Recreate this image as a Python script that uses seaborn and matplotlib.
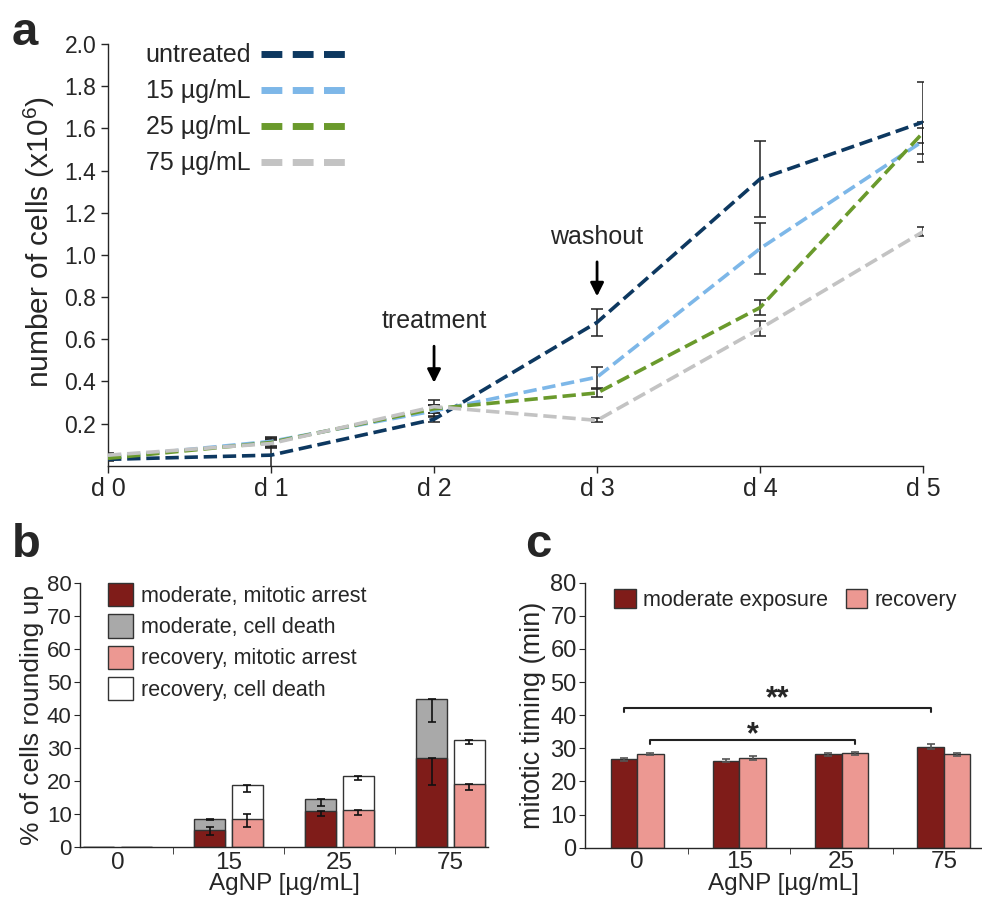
import numpy as np
import pandas as pd
import matplotlib
matplotlib.use("Agg")
import matplotlib.pyplot as plt
import seaborn as sns
from matplotlib.lines import Line2D
from matplotlib.patches import Patch

# -------------------- Data: panel a (cell growth) --------------------
days = ["d 0", "d 1", "d 2", "d 3", "d 4", "d 5"]
groups = ["untreated", "15 µg/mL", "25 µg/mL", "75 µg/mL"]
untreated = [0.03, 0.05, 0.22, 0.68, 1.36, 1.63]
ug15 = [0.04, 0.115, 0.26, 0.42, 1.03, 1.54]
ug25 = [0.035, 0.11, 0.27, 0.345, 0.75, 1.58]
ug75 = [0.05, 0.105, 0.28, 0.215, 0.65, 1.11]
untreated_err = [0.01, 0.07, 0.015, 0.065, 0.18, 0.19]
ug15_err = [0.01, 0.02, 0.03, 0.05, 0.12, 0.06]
ug25_err = [0.01, 0.02, 0.02, 0.02, 0.035, 0.05]
ug75_err = [0.01, 0.02, 0.03, 0.01, 0.035, 0.02]
line_colors = ["#0d3860", "#7db7e8", "#6a9a2c", "#c3c3c3"]

# -------------------- Data: panel b (rounding up) --------------------
doses = ["0", "15", "25", "75"]
mod_arrest = [0, 5.0, 10.8, 26.8]
mod_death = [0, 3.3, 3.7, 17.9]
rec_arrest = [0, 8.4, 11.1, 19.2]
rec_death = [0, 10.3, 10.3, 13.1]
# error bars (lower, upper)
mod_arrest_err = [[0, 1.5, 1.3, 8.0], [0, 1.0, 0, 0]]
mod_total_err = [[0, 0.3, 2.2, 6.8], [0, 0, 0, 0]]
rec_arrest_err = [[0, 2.3, 1.5, 2.0], [0, 1.7, 0, 0]]
rec_total_err = [[0, 2.0, 1.2, 1.2], [0, 0, 0, 0]]

# -------------------- Data: panel c (mitotic timing) --------------------
moderate_time = [26.7, 26.3, 28.2, 30.5]
recovery_time = [28.3, 27.1, 28.5, 28.2]
moderate_time_err = [0.4, 0.4, 0.5, 0.7]
recovery_time_err = [0.4, 0.5, 0.5, 0.5]

dark_red = "#7f1c19"
pink = "#ec9892"
grey = "#a9a9a9"

sns.set_style("ticks")
plt.rcParams["font.family"] = ["Liberation Sans", "DejaVu Sans"]
plt.rcParams["mathtext.fontset"] = "custom"
plt.rcParams["mathtext.rm"] = "Liberation Sans"
plt.rcParams["axes.linewidth"] = 1.0

fig = plt.figure(figsize=(9.82, 8.99), dpi=100)

# ==================== Panel a ====================
ax_a = fig.add_axes([0.110, 0.482, 0.830, 0.469])
series = [untreated, ug15, ug25, ug75]
errs = [untreated_err, ug15_err, ug25_err, ug75_err]
df_a = pd.DataFrame({
    "day": np.tile(np.arange(len(days)), len(groups)),
    "cells": np.concatenate(series),
    "group": np.repeat(groups, len(days)),
})
sns.lineplot(data=df_a, x="day", y="cells", hue="group", palette=line_colors,
             linewidth=2.6, legend=False, ax=ax_a, zorder=3)
for ln in ax_a.get_lines():
    ln.set_dashes((3.7, 1.6))
for vals, err in zip(series, errs):
    ax_a.errorbar(np.arange(len(days)), vals, yerr=err, fmt="none",
                  ecolor="#222222", elinewidth=1.1, capsize=4, capthick=1.1, zorder=2)

ax_a.set_xlim(0, 5)
ax_a.set_ylim(0, 2.0)
ax_a.set_xticks(np.arange(len(days)))
ax_a.set_xticklabels(days, fontsize=18)
ax_a.set_yticks(np.arange(0.2, 2.01, 0.2))
ax_a.set_yticklabels([f"{v:.1f}" for v in np.arange(0.2, 2.01, 0.2)], fontsize=16.5)
ax_a.tick_params(length=5, width=1)
ax_a.set_xlabel("")
ax_a.set_ylabel("number of cells (x10$^{6}$)", fontsize=21.5)
ax_a.yaxis.set_label_coords(-0.062, 0.53)
sns.despine(ax=ax_a)

handles = [Line2D([0], [0], color=c, lw=5, dashes=(3, 1.5)) for c in line_colors]
ax_a.legend(handles, groups, loc="upper left", bbox_to_anchor=(0.018, 1.055),
            frameon=False, markerfirst=False, fontsize=18, handlelength=3.7,
            handletextpad=0.4, labelspacing=0.48)

ax_a.annotate("", xy=(2, 0.38), xytext=(2, 0.58),
              arrowprops=dict(arrowstyle="-|>", color="black", lw=2, mutation_scale=20))
ax_a.text(2, 0.63, "treatment", ha="center", va="bottom", fontsize=18)
ax_a.annotate("", xy=(3, 0.79), xytext=(3, 0.98),
              arrowprops=dict(arrowstyle="-|>", color="black", lw=2, mutation_scale=20))
ax_a.text(3, 1.03, "washout", ha="center", va="bottom", fontsize=18)

fig.text(0.012, 0.988, "a", fontsize=34, fontweight="bold", va="top")

# ==================== Panel b ====================
ax_b = fig.add_axes([0.0815, 0.058, 0.4155, 0.2935])
conds = ["moderate", "recovery"]
df_tot = pd.DataFrame({
    "dose": np.tile(doses, 2),
    "cond": np.repeat(conds, len(doses)),
    "value": np.array(mod_arrest + rec_arrest) + np.array(mod_death + rec_death),
})
df_arr = pd.DataFrame({
    "dose": np.tile(doses, 2),
    "cond": np.repeat(conds, len(doses)),
    "value": mod_arrest + rec_arrest,
})
sns.barplot(data=df_tot, x="dose", y="value", hue="cond", order=doses, hue_order=conds,
            palette={"moderate": grey, "recovery": "white"}, width=0.68, gap=0.18,
            edgecolor="#333333", linewidth=1.0, errorbar=None, legend=False,
            saturation=1, ax=ax_b)
sns.barplot(data=df_arr, x="dose", y="value", hue="cond", order=doses, hue_order=conds,
            palette={"moderate": dark_red, "recovery": pink}, width=0.68, gap=0.18,
            edgecolor="#333333", linewidth=1.0, errorbar=None, legend=False,
            saturation=1, ax=ax_b)
idx = np.arange(len(doses))
tot_mod = np.array(mod_arrest) + np.array(mod_death)
tot_rec = np.array(rec_arrest) + np.array(rec_death)
eb_kw = dict(fmt="none", ecolor="#111111", elinewidth=1.2, capsize=3, capthick=1.2, zorder=5)
ax_b.errorbar(idx[1:] - 0.17, tot_mod[1:], yerr=np.array(mod_total_err)[:, 1:], **eb_kw)
ax_b.errorbar(idx[1:] - 0.17, np.array(mod_arrest)[1:], yerr=np.array(mod_arrest_err)[:, 1:], **eb_kw)
ax_b.errorbar(idx[1:] + 0.17, tot_rec[1:], yerr=np.array(rec_total_err)[:, 1:], **eb_kw)
ax_b.errorbar(idx[1:] + 0.17, np.array(rec_arrest)[1:], yerr=np.array(rec_arrest_err)[:, 1:], **eb_kw)

ax_b.set_xlim(-0.34, 3.34)
ax_b.set_ylim(0, 80)
ax_b.set_yticks(range(0, 81, 10))
ax_b.tick_params(axis="y", labelsize=16, length=4, pad=2)
ax_b.tick_params(axis="x", labelsize=17.5, length=0, pad=4)
ax_b.set_xticks(idx, minor=False)
ax_b.set_xticklabels(doses)
ax_b.set_xticks([0.5, 1.5, 2.5], minor=True)
ax_b.tick_params(axis="x", which="minor", length=5)
ax_b.set_xlabel("AgNP [µg/mL]", fontsize=17.5, labelpad=-1)
ax_b.set_ylabel("% of cells rounding up", fontsize=19, labelpad=2)
sns.despine(ax=ax_b)

b_handles = [Patch(facecolor=dark_red, edgecolor="#333333"),
             Patch(facecolor=grey, edgecolor="#333333"),
             Patch(facecolor=pink, edgecolor="#333333"),
             Patch(facecolor="white", edgecolor="#333333")]
b_labels = ["moderate, mitotic arrest", "moderate, cell death",
            "recovery, mitotic arrest", "recovery, cell death"]
ax_b.legend(b_handles, b_labels, loc="upper left", bbox_to_anchor=(0.02, 1.075),
            frameon=False, fontsize=15.5, handlelength=1.2, handleheight=1.3,
            handletextpad=0.35, labelspacing=0.35)

fig.text(0.012, 0.418, "b", fontsize=34, fontweight="bold", va="top")

# ==================== Panel c ====================
ax_c = fig.add_axes([0.5957, 0.057, 0.404, 0.295])
df_c = pd.DataFrame({
    "dose": np.tile(doses, 2),
    "cond": np.repeat(["moderate exposure", "recovery"], len(doses)),
    "value": moderate_time + recovery_time,
})
sns.barplot(data=df_c, x="dose", y="value", hue="cond", order=doses,
            palette=[dark_red, pink], width=0.52, edgecolor="#333333", linewidth=1.0,
            errorbar=None, saturation=1, ax=ax_c)
eb_c = dict(fmt="none", ecolor="#555555", elinewidth=1.2, capsize=3, capthick=1.2, zorder=5)
ax_c.errorbar(idx - 0.13, moderate_time, yerr=moderate_time_err, **eb_c)
ax_c.errorbar(idx + 0.13, recovery_time, yerr=recovery_time_err, **eb_c)

# significance brackets
ax_c.plot([0 - 0.13, 0 - 0.13, 3 - 0.13, 3 - 0.13], [41.0, 42.3, 42.3, 41.0], color="#222222", lw=1.5)
ax_c.text((0 + 3) / 2 - 0.13, 40.3, "**", ha="center", va="bottom", fontsize=22, fontweight="bold")
ax_c.plot([0 + 0.13, 0 + 0.13, 2 + 0.13, 2 + 0.13], [31.2, 32.5, 32.5, 31.2], color="#222222", lw=1.5)
ax_c.text((0 + 2) / 2 + 0.13, 29.4, "*", ha="center", va="bottom", fontsize=22, fontweight="bold")

ax_c.set_xlim(-0.51, 3.37)
ax_c.set_ylim(0, 80)
ax_c.set_yticks(range(0, 81, 10))
ax_c.tick_params(axis="y", labelsize=17, length=4, pad=2)
ax_c.tick_params(axis="x", labelsize=17.5, length=0, pad=2)
ax_c.set_xticks(idx, minor=False)
ax_c.set_xticklabels(doses)
ax_c.set_xticks([0.5, 1.5, 2.5], minor=True)
ax_c.tick_params(axis="x", which="minor", length=4)
ax_c.set_xlabel("AgNP [µg/mL]", fontsize=17.5, labelpad=0)
ax_c.set_ylabel("mitotic timing (min)", fontsize=19.5, labelpad=3)
sns.despine(ax=ax_c)
ax_c.legend(loc="upper left", bbox_to_anchor=(0.025, 1.05), ncol=2, frameon=False,
            fontsize=15.5, handlelength=1.0, handleheight=1.0, handletextpad=0.35,
            columnspacing=0.8, title=None)

fig.text(0.535, 0.418, "c", fontsize=34, fontweight="bold", va="top")

fig.savefig("out.png", dpi=100)
